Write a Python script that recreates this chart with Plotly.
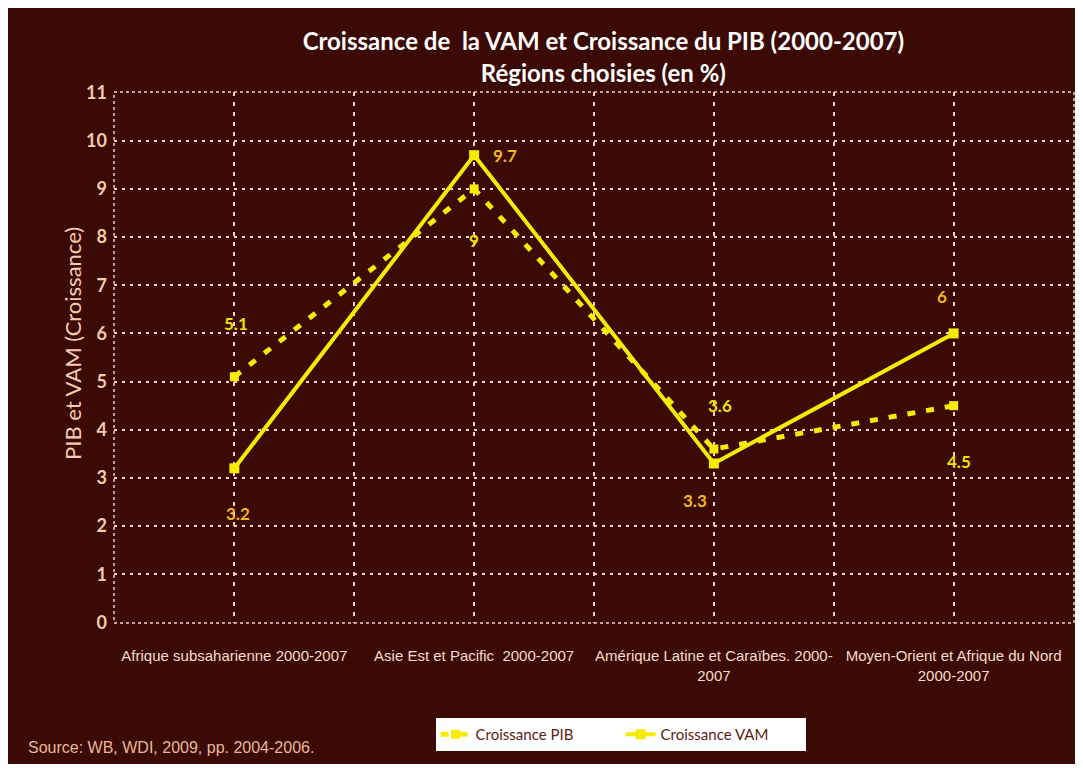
import plotly.graph_objects as go

# data
regions = [
    "Afrique subsaharienne 2000-2007",
    "Asie Est et Pacific  2000-2007",
    "Amérique Latine et Caraïbes. 2000-<br>2007",
    "Moyen-Orient et Afrique du Nord<br>2000-2007",
]
pib = [5.1, 9.0, 3.6, 4.5]
vam = [3.2, 9.7, 3.3, 6.0]
pib_labels = ["5.1", "9", "3.6", "4.5"]
vam_labels = ["3.2", "9.7", "3.3", "6"]

# label offsets in pixels (x, y) relative to each point
pib_shift = [(2, 53), (0, -52), (6, 44), (5, -56)]
vam_shift = [(4, -45), (31, 0), (-19, -37), (-12, 37)]

bg = "#3b0a05"
peach = "#f6cbb0"
yellow = "#f7eb00"
grid = "#f2d2c2"
sans = "Liberation Sans, Arial, sans-serif"
calibri = "Lato, Open Sans, sans-serif"

x_pos = list(range(len(regions)))

fig = go.Figure()
fig.add_trace(go.Scatter(
    x=x_pos, y=pib, name="Croissance PIB",
    mode="lines+markers",
    line=dict(color=yellow, width=5, dash="8px,11px"),
    marker=dict(symbol="square", size=9, color=yellow),
))
fig.add_trace(go.Scatter(
    x=x_pos, y=vam, name="Croissance VAM",
    mode="lines+markers",
    line=dict(color=yellow, width=4),
    marker=dict(symbol="square", size=10, color=yellow),
))

# data labels
for i in x_pos:
    fig.add_annotation(x=i, y=pib[i], text=pib_labels[i], showarrow=False,
                       xshift=pib_shift[i][0], yshift=pib_shift[i][1],
                       font=dict(family=calibri, size=17, color="#efe000", weight="bold"))
    fig.add_annotation(x=i, y=vam[i], text=vam_labels[i], showarrow=False,
                       xshift=vam_shift[i][0], yshift=vam_shift[i][1],
                       font=dict(family=calibri, size=17, color="#f2b818", weight="bold"))

# gridlines on every category and half-way between
tick_vals = []
tick_text = []
for i in x_pos:
    tick_vals += [i - 0.5, i]
    tick_text += ["", regions[i]]
tick_vals.append(len(regions) - 0.5)
tick_text.append("")

# dashed frame round the plot area
fig.add_shape(type="rect", xref="paper", yref="paper", x0=0, y0=0, x1=1, y1=1,
              line=dict(color=grid, width=1.5, dash="3px,3px"), layer="below")

# y axis title
fig.add_annotation(xref="paper", yref="paper", x=-0.044, y=0.527,
                   xanchor="center", yanchor="middle", showarrow=False, textangle=-90,
                   text="PIB et VAM (Croissance)",
                   font=dict(family=calibri, size=22, color=peach))

fig.add_annotation(xref="paper", yref="paper", x=-0.092, y=-0.235,
                   xanchor="left", yanchor="middle", showarrow=False,
                   text="Source: WB, WDI, 2009, pp. 2004-2006.",
                   font=dict(family=sans, size=16, color="#e9b899"))

fig.update_layout(
    width=1067, height=756,
    margin=dict(l=106, r=1, t=84, b=141),
    paper_bgcolor=bg, plot_bgcolor=bg,
    title=dict(
        text="Croissance de \u00a0la VAM et Croissance du PIB (2000-2007)<br>Régions choisies (en %)",
        x=0.558, xanchor="center", xref="container",
        y=0.944, yanchor="top", yref="container",
        font=dict(family=calibri, size=24, color="white", weight="bold"),
    ),
    xaxis=dict(
        range=[-0.502, 3.502], tickvals=tick_vals, ticktext=tick_text,
        tickangle=0, automargin=False, ticklabelstandoff=22,
        showgrid=True, gridcolor=grid, griddash="4px,6px", gridwidth=2,
        zeroline=False, showline=False, ticks="",
        tickfont=dict(family=sans, size=15, color="#f8dccb"),
    ),
    yaxis=dict(
        range=[-0.012, 11.012], dtick=1, tick0=0, automargin=False,
        ticklabelstandoff=6,
        showgrid=True, gridcolor=grid, griddash="3px,5px", gridwidth=2,
        zeroline=False, showline=False, ticks="",
        tickfont=dict(family=calibri, size=18, color=peach, weight="bold"),
    ),
    showlegend=True,
    legend=dict(
        orientation="h", x=0.335, xanchor="left", y=-0.179, yanchor="top",
        bgcolor="white", entrywidth=140,
        font=dict(family=calibri, size=15, color="#5c1c10"),
    ),
)

fig.write_html("out.html")
